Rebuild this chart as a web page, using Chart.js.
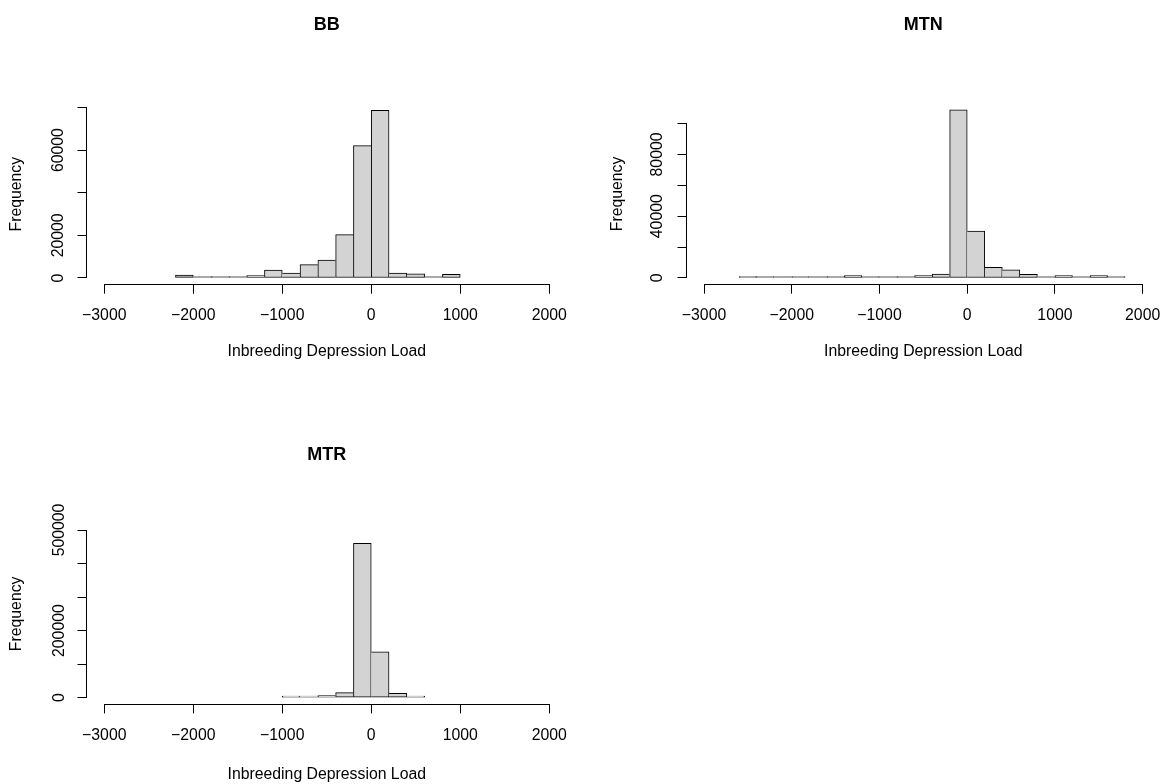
<!DOCTYPE html>
<html>
<head>
<meta charset="utf-8">
<script src="https://cdn.jsdelivr.net/npm/chart.js@4.4.0/dist/chart.umd.min.js"></script>
<style>
  html, body { margin: 0; padding: 0; background: #fff; }
  body { width: 1173px; height: 784px; position: relative; overflow: hidden; }
  canvas { position: absolute; }
</style>
</head>
<body>
<canvas id="bb" width="586" height="392" style="left:0;top:0"></canvas>
<canvas id="mtn" width="573" height="392" style="left:600px;top:0"></canvas>
<canvas id="mtr" width="586" height="392" style="left:0;top:392px"></canvas>
<script>
// histogram bins are 200 wide, values below are the bin centres
const bbBins = [-2100, -1900, -1700, -1500, -1300, -1100, -900, -700, -500, -300, -100, 100, 300, 500, 700, 900];
const bbCounts = [1400, 150, 300, 600, 1100, 3750, 2350, 6250, 8450, 20350, 62100, 78600, 2350, 2000, 150, 1700];

const mtnBins = [-2500, -2300, -2100, -1900, -1700, -1500, -1300, -1100, -900, -700, -500, -300, -100, 100, 300, 500, 700, 900, 1100, 1300, 1500, 1700];
const mtnCounts = [900, 100, 100, 200, 100, 200, 1500, 650, 200, 870, 1500, 2600, 108900, 30400, 6950, 5200, 2400, 1100, 1500, 200, 1500, 100];

const mtrBins = [-900, -700, -500, -300, -100, 100, 300, 500];
const mtrCounts = [2000, 500, 6000, 15000, 460300, 137100, 13100, 1500];

const xTickVals = [-3000, -2000, -1000, 0, 1000, 2000];
const xTickLabels = ['\u22123000', '\u22122000', '\u22121000', '0', '1000', '2000'];

const bbYTickVals = [0, 20000, 40000, 60000, 80000];
const bbYTickLabels = ['0', '20000', '', '60000', ''];
const mtnYTickVals = [0, 20000, 40000, 60000, 80000, 100000];
const mtnYTickLabels = ['0', '', '40000', '', '80000', ''];
const mtrYTickVals = [0, 100000, 200000, 300000, 400000, 500000];
const mtrYTickLabels = ['0', '', '200000', '', '', '500000'];

const FONT = "'Liberation Sans', Arial, Helvetica, sans-serif";
const AXIS_FONT = 15.8;
Chart.defaults.font.family = FONT;
Chart.defaults.color = '#000';

// R draws the axis line only from first to last tick
const rAxisLines = {
  id: 'rAxisLines',
  afterDraw(chart) {
    const { ctx, chartArea } = chart;
    const xs = chart.scales.x, ys = chart.scales.y;
    const px = v => Math.round(v - 0.5) + 0.5;
    ctx.save();
    ctx.strokeStyle = '#000';
    ctx.lineWidth = 1;
    ctx.lineCap = 'square';
    ctx.beginPath();
    const xb = px(chartArea.bottom);
    ctx.moveTo(px(xs.getPixelForValue(xs.ticks[0].value)), xb);
    ctx.lineTo(px(xs.getPixelForValue(xs.ticks[xs.ticks.length - 1].value)), xb);
    const yl = px(chartArea.left);
    ctx.moveTo(yl, px(ys.getPixelForValue(ys.ticks[0].value)));
    ctx.lineTo(yl, px(ys.getPixelForValue(ys.ticks[ys.ticks.length - 1].value)));
    ctx.stroke();
    ctx.restore();
  }
};

function drawHist(id, title, bins, counts, yVals, yLabels, yRange, g) {
  const n = bins.length;
  // each shared edge between two bins is drawn once, by the taller bin
  const edges = c => {
    const i = c.dataIndex;
    return {
      top: 1,
      bottom: 1,
      left: (i === 0 || counts[i - 1] < counts[i]) ? 1 : 0,
      right: (i === n - 1 || counts[i + 1] <= counts[i]) ? 1 : 0
    };
  };
  new Chart(document.getElementById(id), {
    type: 'bar',
    data: {
      datasets: [{
        data: bins.map((b, i) => ({ x: b, y: counts[i] })),
        backgroundColor: '#d3d3d3',
        borderColor: '#000',
        borderWidth: edges,
        borderSkipped: false,
        minBarLength: 1.5,
        barPercentage: 1,
        categoryPercentage: 1
      }]
    },
    options: {
      responsive: false,
      animation: false,
      devicePixelRatio: 1,
      layout: { padding: { left: 0, right: g.padRight, top: 0, bottom: g.padBottom } },
      plugins: {
        legend: { display: false },
        tooltip: { enabled: false },
        title: {
          display: true,
          text: title,
          fullSize: false,
          color: '#000',
          font: { size: 18, weight: 'bold', lineHeight: 1.2 },
          padding: { top: g.titleTop, bottom: g.titleBottom }
        }
      },
      scales: {
        x: {
          type: 'linear',
          min: -3200,
          max: 2200,
          offset: false,
          border: { display: false },
          grid: { display: true, drawOnChartArea: false, drawTicks: true, tickLength: 9, color: '#000', offset: false },
          afterBuildTicks: s => { s.ticks = xTickVals.map(v => ({ value: v })); },
          ticks: {
            autoSkip: false,
            minRotation: 0,
            maxRotation: 0,
            padding: 12.3,
            color: '#000',
            font: { size: AXIS_FONT },
            callback: v => { const k = xTickVals.indexOf(v); return k < 0 ? '' : xTickLabels[k]; }
          },
          title: {
            display: true,
            text: 'Inbreeding Depression Load',
            color: '#000',
            font: { size: AXIS_FONT, lineHeight: 1 },
            padding: { top: 0, bottom: g.xTitlePad }
          },
          afterFit: s => { s.height = g.xHeight; }
        },
        y: {
          min: yRange[0],
          max: yRange[1],
          border: { display: false },
          grid: { display: true, drawOnChartArea: false, drawTicks: true, tickLength: 9, color: '#000' },
          afterBuildTicks: s => { s.ticks = yVals.map(v => ({ value: v })); },
          ticks: {
            autoSkip: false,
            minRotation: 90,
            maxRotation: 90,
            crossAlign: 'center',
            padding: g.yTickPad,
            color: '#000',
            font: { size: AXIS_FONT },
            callback: v => { const k = yVals.indexOf(v); return k < 0 ? '' : yLabels[k]; }
          },
          title: {
            display: true,
            text: 'Frequency',
            color: '#000',
            font: { size: AXIS_FONT, lineHeight: 1 },
            padding: { top: g.yTitlePad, bottom: 0 }
          },
          afterFit: s => { s.width = 86.5; }
        }
      }
    },
    plugins: [rAxisLines]
  });
}

const bbMax = Math.max(...bbCounts);
const mtnMax = Math.max(...mtnCounts);

drawHist('bb', 'BB', bbBins, bbCounts, bbYTickVals, bbYTickLabels,
  [-0.04 * bbMax, 1.04 * bbMax],
  { padRight: 19, padBottom: 27.3, titleTop: 14.2, titleBottom: 67.9, xHeight: 80, xTitlePad: 4.8, yTickPad: -2.7, yTitlePad: 9.1 });

drawHist('mtn', 'MTN', mtnBins, mtnCounts, mtnYTickVals, mtnYTickLabels,
  [-0.04 * mtnMax, 1.04 * mtnMax],
  { padRight: 6, padBottom: 27.3, titleTop: 14.2, titleBottom: 67.3, xHeight: 80, xTitlePad: 4.8, yTickPad: -2, yTitlePad: 10.1 });

drawHist('mtr', 'MTR', mtrBins, mtrCounts, mtrYTickVals, mtrYTickLabels,
  [-20000, 520000],
  { padRight: 19, padBottom: 1.25, titleTop: 52.2, titleBottom: 57.5, xHeight: 78.35, xTitlePad: -0.15, yTickPad: -8.3, yTitlePad: 9.1 });
</script>
</body>
</html>
